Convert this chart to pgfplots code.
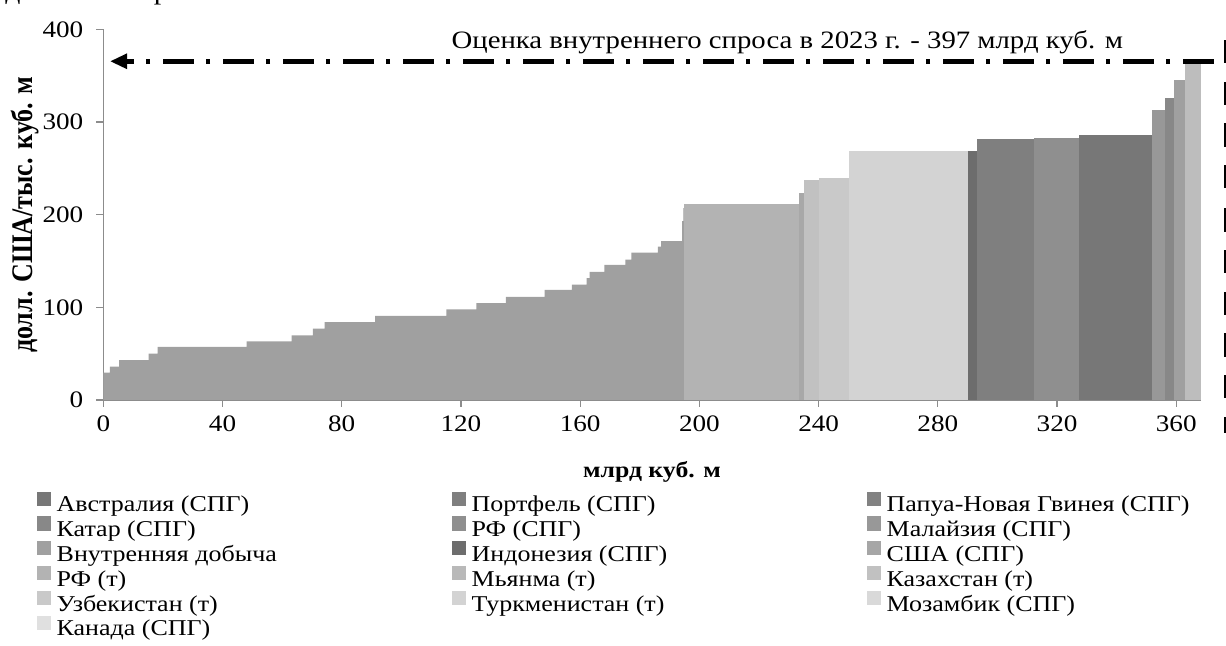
\documentclass[border=0pt]{standalone}
\usepackage{pgfplots}
\pgfplotsset{compat=1.18}
\usepackage{fontspec}
\setmainfont{Liberation Serif}[FakeStretch=1.15]
\newfontfamily\plainserif{Liberation Serif}
\usetikzlibrary{arrows.meta}
\definecolor{axisgray}{HTML}{8C8C8C}
\definecolor{cAus}{HTML}{777777}
\definecolor{cPort}{HTML}{7F7F7F}
\definecolor{cPNG}{HTML}{828282}
\definecolor{cQat}{HTML}{888888}
\definecolor{cRFl}{HTML}{8F8F8F}
\definecolor{cMal}{HTML}{989898}
\definecolor{cDom}{HTML}{A0A0A0}
\definecolor{cInd}{HTML}{6D6D6D}
\definecolor{cUSA}{HTML}{A6A6A6}
\definecolor{cRFp}{HTML}{B3B3B3}
\definecolor{cMya}{HTML}{B9B9B9}
\definecolor{cKaz}{HTML}{C1C1C1}
\definecolor{cUzb}{HTML}{C9C9C9}
\definecolor{cTkm}{HTML}{D3D3D3}
\definecolor{cMoz}{HTML}{D9D9D9}
\definecolor{cCan}{HTML}{E0E0E0}
\definecolor{cStrip}{HTML}{A8A8A8}
\definecolor{cLast}{HTML}{BDBDBD}
\begin{document}
\begin{tikzpicture}
\useasboundingbox (-51.65pt,-123pt) rectangle (561.35pt,200pt);
\begin{axis}[
  at={(0,0)}, anchor=south west,
  width=548.7pt, height=185.35pt, scale only axis,
  xmin=0, xmax=368.2, ymin=0, ymax=400,
  xtick={0,40,...,360}, ytick={0,100,...,400},
  axis lines*=left,
  axis line style={draw=axisgray, line width=0.6pt},
  tick style={draw=axisgray, line width=0.6pt},
  tick align=outside, major tick length=3.5pt,
  /pgf/number format/assume math mode=true,
  ticklabel style={font=\fontsize{11.8}{14}\selectfont},
  yticklabel style={xshift=-3pt},
  xticklabel style={yshift=-1pt},
  xlabel={млрд куб. м}, ylabel={\scalebox{1}[1.15]{\plainserif\bfseries долл. США/тыс. куб. м}},
  xlabel style={font=\fontsize{11.2}{13}\selectfont\bfseries, at={(axis description cs:0.5,-0.194)}, anchor=center},
  ylabel style={font=\fontsize{13}{15}\selectfont\bfseries, at={(axis description cs:-0.0714,0.5)}, anchor=center},
  clip=false,
  legend columns=3,
  legend cell align=left,
  legend style={at={(-0.0607,-0.247)}, anchor=north west, draw=none, fill=none,
    inner sep=0pt, outer sep=0pt, column sep=0pt, row sep=-1.3pt,
    font=\fontsize{11.3}{13}\selectfont,
    nodes={inner sep=0pt, text height=9.4pt, text depth=3.5pt},
    /tikz/every odd column/.append style={column sep=2.85pt}},
  legend image code/.code={\fill[#1, draw=none] (0pt,0.1pt) rectangle (7.15pt,7.25pt);},
]
% domestic production
\addplot[fill=cDom, draw=none, const plot, forget plot] coordinates {
(0,29.5) (2.2,36) (5.3,42.9) (15.2,50) (18.2,57.2) (48.1,63.3) (63.2,69.8)
(70.3,77) (74.3,83.9) (91.2,90.7) (115.1,97.9) (125.2,104.4) (135.1,111.2)
(148.1,118.8) (157.2,124.5) (162.2,131.4) (163.2,138.2) (168.1,145.8)
(175.2,151.5) (177.2,159.1) (186.1,165.6) (187.2,171.4) (194.2,193)
(194.6,207) (195,207)} \closedcycle;
\addplot[fill=cRFp, draw=none, forget plot] coordinates {(195,211) (233.5,211)} \closedcycle;
\addplot[fill=cStrip, draw=none, forget plot] coordinates {(233.5,223.5) (235.1,223.5)} \closedcycle;
\addplot[fill=cKaz, draw=none, forget plot] coordinates {(235.1,237.2) (240.2,237.2)} \closedcycle;
\addplot[fill=cUzb, draw=none, forget plot] coordinates {(240.2,240) (250.2,240)} \closedcycle;
\addplot[fill=cTkm, draw=none, forget plot] coordinates {(250.2,269.2) (290.2,269.2)} \closedcycle;
\addplot[fill=cInd, draw=none, forget plot] coordinates {(290.2,269.2) (293.2,269.2)} \closedcycle;
\addplot[fill=cPort, draw=none, forget plot] coordinates {(293.2,281.5) (312.1,281.5)} \closedcycle;
\addplot[fill=cRFl, draw=none, forget plot] coordinates {(312.1,282.6) (327.3,282.6)} \closedcycle;
\addplot[fill=cAus, draw=none, forget plot] coordinates {(327.3,285.8) (352,285.8)} \closedcycle;
\addplot[fill=cMal, draw=none, forget plot] coordinates {(352,313.2) (356.2,313.2)} \closedcycle;
\addplot[fill=cQat, draw=none, forget plot] coordinates {(356.2,325.8) (359.1,325.8)} \closedcycle;
\addplot[fill=cDom, draw=none, forget plot] coordinates {(359.1,344.8) (363,344.8)} \closedcycle;
\addplot[fill=cLast, draw=none, forget plot] coordinates {(363,364) (368.2,364)} \closedcycle;
% demand line
\addplot[black, line width=2.5pt, dash pattern=on 15.5pt off 6.25pt on 2pt off 6.25pt,
  -{Triangle[length=8.5pt,width=7.2pt]}, forget plot] coordinates {(372.5,365.5) (2.25,365.5)};
\node[anchor=base east, font=\fontsize{12.5}{15}\selectfont] at (axis cs:344.5,379.8)
  {Оценка внутреннего спроса в 2023 г. - 397 млрд куб. м};
% legend
\addlegendimage{fill=cAus}\addlegendentry{\makebox[197.5pt][l]{Австралия (СПГ)}}
\addlegendimage{fill=cPort}\addlegendentry{\makebox[197.5pt][l]{Портфель (СПГ)}}
\addlegendimage{fill=cPNG}\addlegendentry{Папуа-Новая Гвинея (СПГ)}
\addlegendimage{fill=cQat}\addlegendentry{\makebox[197.5pt][l]{Катар (СПГ)}}
\addlegendimage{fill=cRFl}\addlegendentry{\makebox[197.5pt][l]{РФ (СПГ)}}
\addlegendimage{fill=cMal}\addlegendentry{Малайзия (СПГ)}
\addlegendimage{fill=cDom}\addlegendentry{\makebox[197.5pt][l]{Внутренняя добыча}}
\addlegendimage{fill=cInd}\addlegendentry{\makebox[197.5pt][l]{Индонезия (СПГ)}}
\addlegendimage{fill=cUSA}\addlegendentry{США (СПГ)}
\addlegendimage{fill=cRFp}\addlegendentry{\makebox[197.5pt][l]{РФ (т)}}
\addlegendimage{fill=cMya}\addlegendentry{\makebox[197.5pt][l]{Мьянма (т)}}
\addlegendimage{fill=cKaz}\addlegendentry{Казахстан (т)}
\addlegendimage{fill=cUzb}\addlegendentry{\makebox[197.5pt][l]{Узбекистан (т)}}
\addlegendimage{fill=cTkm}\addlegendentry{\makebox[197.5pt][l]{Туркменистан (т)}}
\addlegendimage{fill=cMoz}\addlegendentry{Мозамбик (СПГ)}
\addlegendimage{fill=cCan}\addlegendentry{\makebox[197.5pt][l]{Канада (СПГ)}}
\end{axis}
% cut-off glyphs at the top and right border of the reference
\node[anchor=base, font=\fontsize{13}{16}\selectfont, inner sep=0pt] at (-45.15pt,200.3pt) {д};
\node[anchor=base, font=\fontsize{13}{16}\selectfont, inner sep=0pt] at (29pt,200.3pt) {р};
\foreach \t/\b in {180/168.5,159/147.5,138.5/126.5,117.5/106,96/84,75/63.5,54/42.5,33.5/21.5,12.5/1,-8.5/-16.5}
  \fill[black] (560.2pt,\b pt) rectangle (562pt,\t pt);
\end{tikzpicture}
\end{document}
